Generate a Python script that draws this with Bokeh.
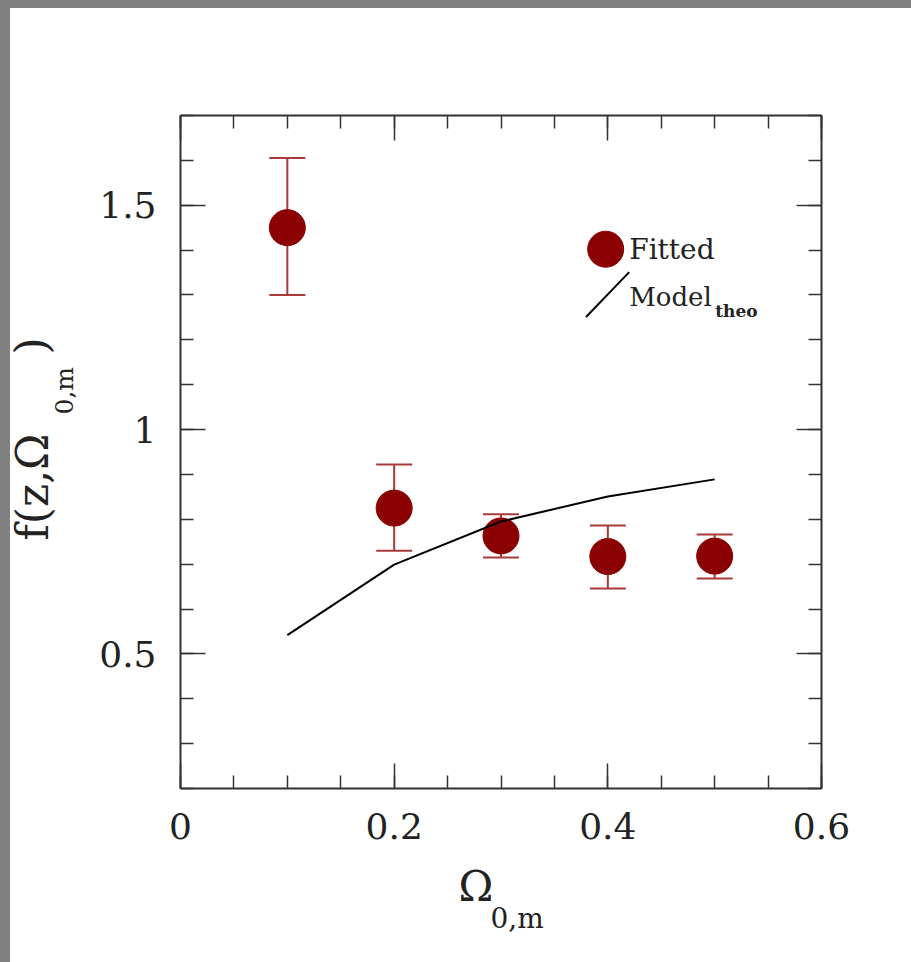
from math import pi
from bokeh.plotting import figure
from bokeh.models import (Range1d, LinearAxis, FixedTicker, Label, Whisker,
                          ColumnDataSource, TeeHead, Spacer)
from bokeh.layouts import row, column
from bokeh.embed import file_html
from bokeh.resources import INLINE

# ---- data ----
omega_m = [0.1, 0.2, 0.3, 0.4, 0.5]
f_fitted = [1.450, 0.825, 0.763, 0.717, 0.718]
f_upper = [1.605, 0.922, 0.811, 0.786, 0.766]
f_lower = [1.300, 0.730, 0.715, 0.646, 0.668]

model_omega = [0.1, 0.2, 0.3, 0.4, 0.5]
model_f = [0.542, 0.699, 0.795, 0.851, 0.889]

x_ticks = [0.0, 0.2, 0.4, 0.6]
x_tick_labels = ["0", "0.2", "0.4", "0.6"]
x_minor = [round(0.05 * i, 2) for i in range(13)]
y_ticks = [0.5, 1.0, 1.5]
y_tick_labels = ["0.5", "1", "1.5"]
y_minor = [round(0.2 + 0.1 * i, 2) for i in range(16)]

legend_labels = ["Fitted", "Model", "theo"]

# ---- style ----
RED = "#8b0000"
ERR = "#a83a3a"
FONT = "DejaVu Serif"
AX = "#333333"

W, H = 901, 954
p = figure(width=W, height=H, output_backend="svg", toolbar_location=None,
           x_range=Range1d(0, 0.6), y_range=Range1d(0.2, 1.7),
           min_border_left=170, min_border_right=90,
           min_border_top=107, min_border_bottom=174,
           x_axis_location=None, y_axis_location=None)
p.grid.visible = False
p.outline_line_color = None
p.background_fill_color = "white"
p.border_fill_color = "white"


def style_axis(ax, ticks, minor, labels, show_labels):
    ax.ticker = FixedTicker(ticks=ticks, minor_ticks=minor)
    ax.axis_line_color = AX
    ax.axis_line_width = 2
    ax.major_tick_line_color = AX
    ax.major_tick_line_width = 1.5
    ax.minor_tick_line_color = AX
    ax.minor_tick_line_width = 1.5
    ax.major_tick_in = 25
    ax.major_tick_out = 0
    ax.minor_tick_in = 13
    ax.minor_tick_out = 0
    ax.major_label_overrides = {t: l for t, l in zip(ticks, labels)}
    ax.major_label_text_font = FONT
    ax.major_label_text_font_size = "36px"
    ax.major_label_text_color = "#222222" if show_labels else None
    ax.major_label_standoff = 24


xb = LinearAxis(); style_axis(xb, x_ticks, x_minor, x_tick_labels, True)
xt = LinearAxis(); style_axis(xt, x_ticks, x_minor, x_tick_labels, False)
yl = LinearAxis(); style_axis(yl, y_ticks, y_minor, y_tick_labels, True)
yr = LinearAxis(); style_axis(yr, y_ticks, y_minor, y_tick_labels, False)
for ax in (xt, yr):
    ax.major_label_text_font_size = "1px"
    ax.major_label_standoff = 0
p.add_layout(xb, "below")
p.add_layout(xt, "above")
p.add_layout(yl, "left")
p.add_layout(yr, "right")

# error bars
src = ColumnDataSource(dict(x=omega_m, y=f_fitted, up=f_upper, lo=f_lower))
wh = Whisker(source=src, base="x", upper="up", lower="lo", dimension="height",
             line_color=ERR, line_width=2,
             upper_head=TeeHead(size=36, line_color=ERR, line_width=2),
             lower_head=TeeHead(size=36, line_color=ERR, line_width=2),
             level="underlay")
p.add_layout(wh)

p.scatter("x", "y", source=src, size=36, fill_color=RED, line_color=RED)
p.line(model_omega, model_f, line_color="black", line_width=2)

# ---- legend (manual, in data units) ----
LX, LY = 0.398, 1.402
p.scatter([LX], [LY], size=36, fill_color=RED, line_color=RED)
p.segment(x0=[LX - 0.0184], y0=[LY - 0.151], x1=[LX + 0.022], y1=[LY - 0.051],
          line_color="black", line_width=2)
p.add_layout(Label(x=LX + 0.022, y=LY, text=legend_labels[0], text_font=FONT,
                   text_font_size="28px", text_baseline="middle", text_color="#222"))
p.add_layout(Label(x=LX + 0.022, y=LY - 0.107, text=legend_labels[1], text_font=FONT,
                   text_font_size="26px", text_baseline="middle", text_color="#222"))
p.add_layout(Label(x=LX + 0.1025, y=LY - 0.137, text=legend_labels[2], text_font=FONT,
                   text_font_size="17px", text_font_style="bold",
                   text_baseline="middle", text_color="#222"))

# ---- axis titles, each piece in a side panel (screen offsets from that panel) ----
def lab(side, x, y, t, size, angle=0.0):
    p.add_layout(Label(x=x, y=y, x_units="screen", y_units="screen", text=t,
                       text_font=FONT, text_font_size=size, angle=angle,
                       text_align="left", text_baseline="middle",
                       text_color="#222"), side)

# x title:  Omega_{0,m}
lab("below", 278, 4, "\u03a9", "42px")
lab("below", 310, 5, "0,m", "28px")
# y title:  f(z, Omega_{0,m})
lab("left", -13, 248, "f(z,\u03a9", "44px", pi / 2)
lab("left", 48, 374, "0,m", "25px", pi / 2)
lab("right", -790, 434, ")", "44px", pi / 2)

left_bar = Spacer(width=10, height=962, styles={"background-color": "#808080"})
top_bar = Spacer(width=W, height=8, styles={"background-color": "#808080"})
layout = row(left_bar, column(top_bar, p, spacing=0), spacing=0)

open("out.html", "w").write(file_html(layout, INLINE))
